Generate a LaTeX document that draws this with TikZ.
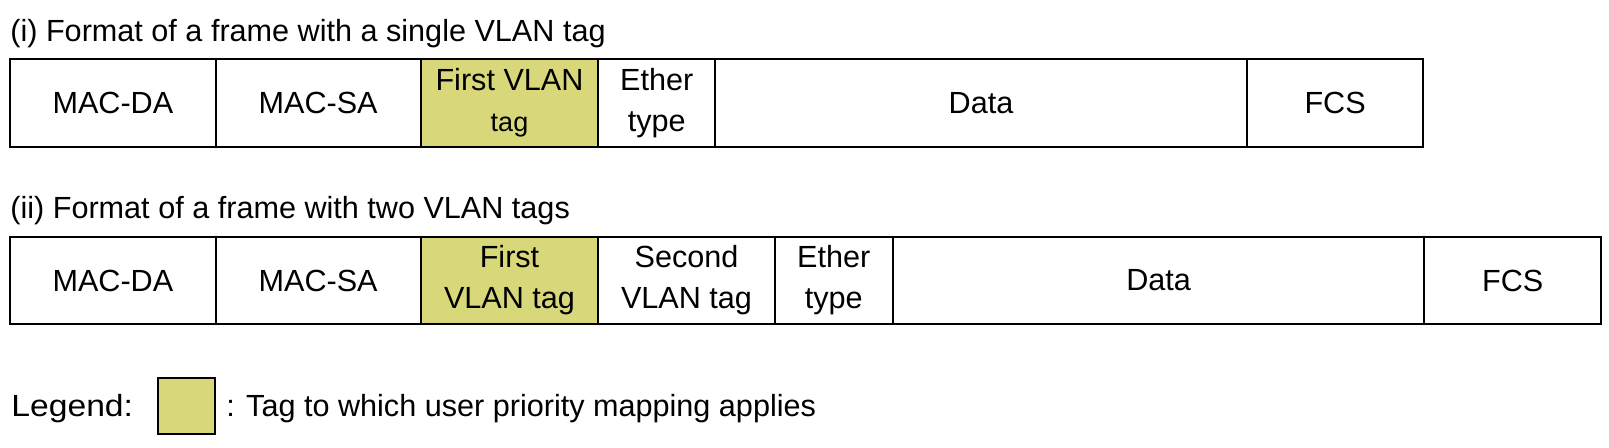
\documentclass[tikz,border=0pt]{standalone}
\usepackage{fontspec}
\setmainfont{Liberation Sans}
\definecolor{tagfill}{RGB}{216,216,122}
\newcommand\fld[7]{\node[fbox,#7,minimum width={(#3-#2)*0.5pt},minimum height={(#5-#4)*0.5pt}] (#1) at ({(#2+#3)/2},{(#4+#5)/2}) {#6};}
\begin{document}
\begin{tikzpicture}[x=0.5pt,y=-0.5pt,
  fbox/.style={draw=black,line width=1pt,inner sep=0pt,align=center,font=\fontsize{15.3pt}{20.5pt}\selectfont},
  tagbox/.style={fill=tagfill},
  plain/.style={fill=white},
  lbl/.style={anchor=base west,inner sep=0pt,font=\fontsize{15.3pt}{19.5pt}\selectfont}]
\path[use as bounding box] (0,0) rectangle (1609,447);
% titles
\node[lbl] (t1) at (10,41) {(i) Format of a frame with a single VLAN tag};
\node[lbl] (t2) at (10,218) {(ii) Format of a frame with two VLAN tags};
% row 1
\fld{a1}{10.3}{215.5}{58.5}{147}{MAC-DA}{plain}
\fld{b1}{215.5}{420.7}{58.5}{147}{MAC-SA}{plain}
\fld{c1}{420.7}{598.3}{58.5}{147}{First VLAN\\{\fontsize{13.5pt}{20.5pt}\selectfont tag}}{tagbox}
\fld{d1}{598.3}{715.3}{58.5}{147}{Ether\\type}{plain}
\fld{e1}{715.3}{1246.8}{58.5}{147}{Data}{plain}
\fld{f1}{1246.8}{1423.4}{58.5}{147}{FCS}{plain}
% row 2
\fld{a2}{10.3}{215.5}{237}{324}{MAC-DA}{plain}
\fld{b2}{215.5}{420.7}{237}{324}{MAC-SA}{plain}
\fld{c2}{420.7}{598.3}{237}{324}{First\\VLAN tag}{tagbox}
\fld{d2}{598.3}{774.8}{237}{324}{Second\\VLAN tag}{plain}
\fld{e2}{774.8}{892.8}{237}{324}{Ether\\type}{plain}
\fld{f2}{892.8}{1424.4}{237}{324}{Data}{plain}
\fld{g2}{1424.4}{1600.9}{237}{324}{FCS}{plain}
% legend
\node[lbl] (lg) at (11,416) {\scalebox{1.1}[1]{Legend:}};
\fld{lb}{158}{215}{378}{434}{}{tagbox}
\node[lbl] (lt) at (226,416) {: Tag to which user priority mapping applies};
\end{tikzpicture}
\end{document}
